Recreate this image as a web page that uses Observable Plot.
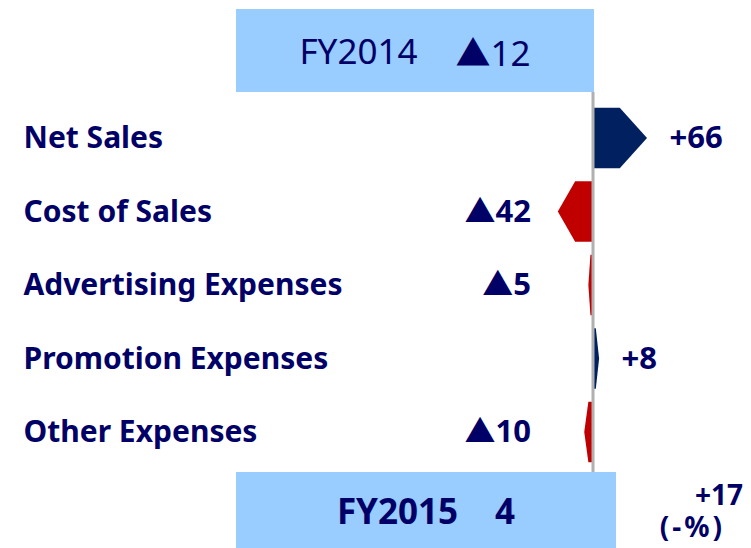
<!DOCTYPE html>
<html><head><meta charset="utf-8">
<script src="https://cdn.jsdelivr.net/npm/d3@7"></script>
<script src="https://cdn.jsdelivr.net/npm/@observablehq/plot@0.6"></script>
<style>
body{margin:0;background:#fff;font-family:"Noto Sans","Noto Sans CJK JP",sans-serif;}
#wrap{position:relative;width:751px;height:548px;overflow:hidden;}
.box{position:absolute;background:#99ccff;color:#000066;display:flex;align-items:center;justify-content:center;white-space:pre;}
#top{left:236px;top:9px;width:358px;height:83px;font-size:35px;font-weight:normal;}
#bottom{left:236px;top:472px;width:380px;height:76px;font-size:35px;font-weight:bold;}
#change{position:absolute;right:8px;top:478px;color:#000066;font-weight:bold;font-size:28px;text-align:right;line-height:32px;}
#plot{position:absolute;left:0;top:92px;}
.tri{font-family:"Noto Sans CJK JP",sans-serif;}
</style></head>
<body>
<div id="wrap">
  <div id="top" class="box"></div>
  <div id="plot"></div>
  <div id="bottom" class="box"></div>
  <div id="change"></div>
</div>
<script>
const categories = ["Net Sales","Cost of Sales","Advertising Expenses","Promotion Expenses","Other Expenses"];
const changes = [66,-42,-5,8,-10];
const years = ["FY2014","FY2015"];
const totals = [-12,4];
const totalChange = 17;
const totalChangePct = "-%";

const fmt = v => v < 0 ? "▲" + Math.abs(v) : (v > 0 ? "+" + v : String(v));
const fmtHtml = v => v < 0 ? `<span class="tri">▲</span>${Math.abs(v)}` : String(v);

document.getElementById("top").innerHTML = `<span>${years[0]}</span><span style="margin-left:38px">${fmtHtml(totals[0])}</span>`;
document.getElementById("bottom").innerHTML = `<span>${years[1]}</span><span style="margin-left:37px">${fmtHtml(totals[1])}</span>`;
document.getElementById("change").innerHTML = `<div>${fmt(totalChange)}</div><div style="letter-spacing:3px;margin-right:18px">(${totalChangePct})</div>`;

const rows = categories.map((c,i)=>({category:c, index:i, value:changes[i]}));
const h = 0.41;
const arrowPts = rows.flatMap(r => [
  {category:r.category, y:r.index-h, x2:r.value/2, value:r.value},
  {category:r.category, y:r.index,   x2:r.value,   value:r.value},
  {category:r.category, y:r.index+h, x2:r.value/2, value:r.value}
]);
const col = v => v > 0 ? "#002060" : "#c00000";
const font = "'Noto Sans', 'Noto Sans CJK JP', sans-serif";

const chart = Plot.plot({
  width: 751, height: 380,
  marginLeft: 0, marginRight: 0, marginTop: 0, marginBottom: 0,
  x: {domain:[0,66], range:[592.5,647], axis:null},
  y: {domain:[0,4], range:[46,340], axis:null},
  color: {type:"identity"},
  style: {background:"transparent", overflow:"visible"},
  marks: [
    Plot.areaX(arrowPts, {y:"y", x1:0, x2:"x2", z:"category", fill:d=>col(d.value), curve:"linear"}),
    Plot.ruleX([0], {stroke:"#b0b0b0", strokeWidth:3}),
    Plot.text(rows, {y:"index", frameAnchor:"left", dx:23, text:"category", textAnchor:"start",
      fill:"#000066", fontSize:30, fontWeight:"bold", fontFamily:font}),
    Plot.text(rows.filter(r=>r.value<0), {x:0, y:"index", dx:-62, text:d=>fmt(d.value), textAnchor:"end",
      fill:"#000066", fontSize:31, fontWeight:"bold", fontFamily:font}),
    Plot.text(rows.filter(r=>r.value>0), {x:"value", y:"index", dx:22, text:d=>fmt(d.value), textAnchor:"start",
      fill:"#000066", fontSize:31, fontWeight:"bold", fontFamily:font})
  ]
});
document.getElementById("plot").append(chart);
</script>
</body></html>
